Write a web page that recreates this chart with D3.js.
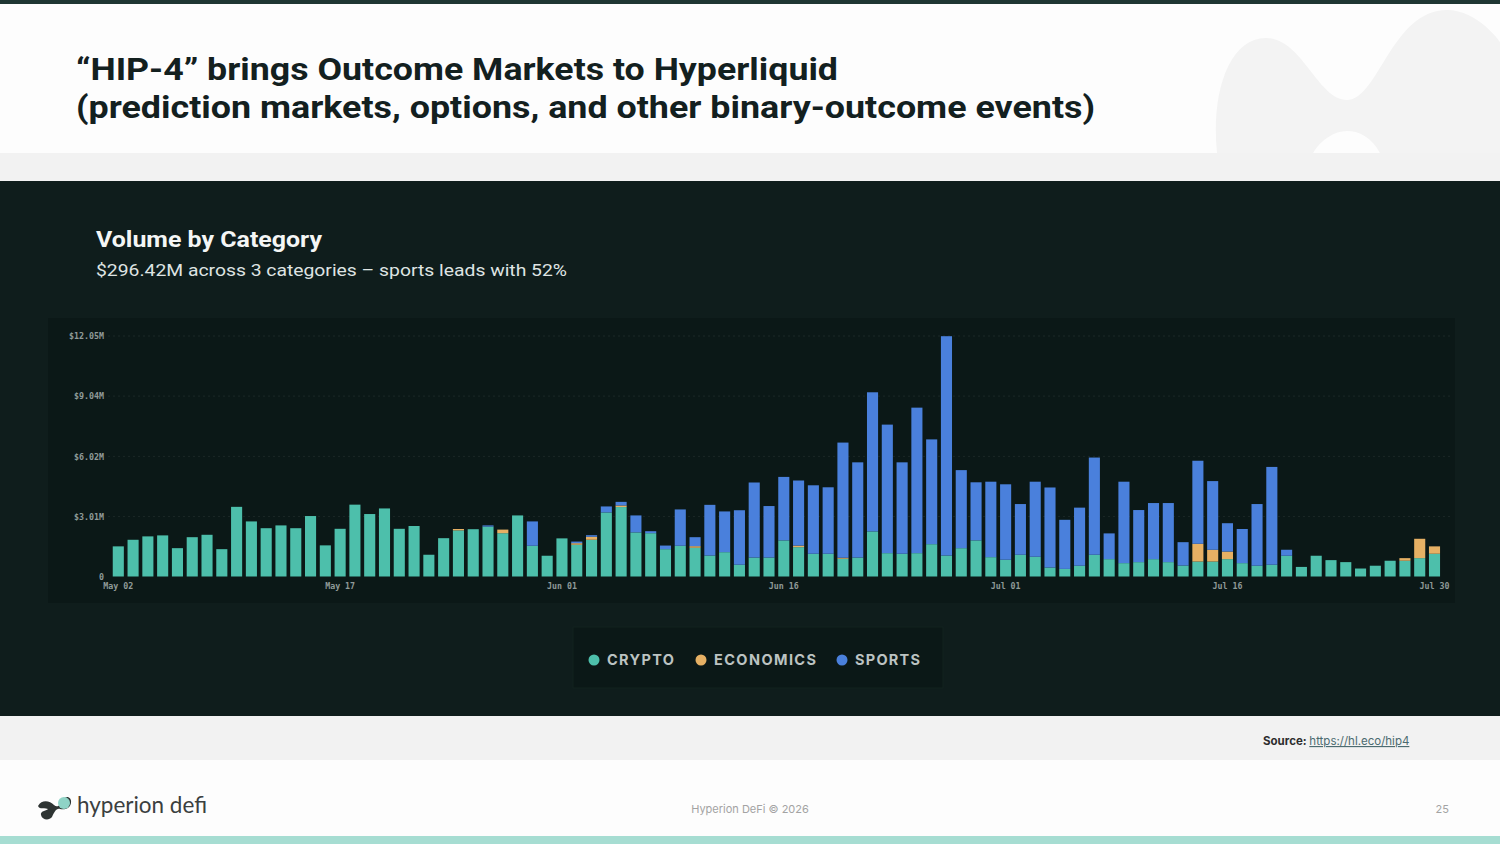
<!DOCTYPE html>
<html>
<head>
<meta charset="utf-8">
<script src="https://cdn.jsdelivr.net/npm/d3@7"></script>
<style>
  html, body { margin: 0; padding: 0; background: #fdfdfd; }
  svg { display: block; }
</style>
</head>
<body>
<svg id="page" width="1500" height="844"></svg>
<script>
// ---- data ($M per day) ----
const startDay = "2025-05-02";
const dayCount = 90;
const categories = ["crypto", "economics", "sports"];
const categoryLabels = ["CRYPTO", "ECONOMICS", "SPORTS"];

const crypto = [
  1.51, 1.84, 2.01, 2.06, 1.42, 1.97, 2.09, 1.37, 3.49, 2.76,
  2.42, 2.56, 2.42, 3.03, 1.56, 2.39, 3.60, 3.13, 3.41, 2.39,
  2.53, 1.09, 1.92, 2.31, 2.37, 2.50, 2.17, 3.06, 1.54, 1.04,
  1.91, 1.59, 1.84, 3.21, 3.48, 2.21, 2.17, 1.37, 1.54, 1.44,
  1.05, 1.22, 0.59, 0.95, 0.95, 1.81, 1.47, 1.14, 1.14, 0.89,
  0.95, 2.26, 1.17, 1.14, 1.17, 1.62, 1.05, 1.42, 1.81, 0.97,
  0.84, 1.09, 0.99, 0.45, 0.38, 0.54, 1.09, 0.87, 0.67, 0.72,
  0.87, 0.72, 0.55, 0.75, 0.75, 0.87, 0.67, 0.54, 0.59, 1.04,
  0.48, 1.04, 0.82, 0.72, 0.40, 0.54, 0.79, 0.79, 0.92, 1.14
];
const economics = [
  0, 0, 0, 0, 0, 0, 0, 0, 0, 0,
  0, 0, 0, 0, 0, 0, 0, 0, 0, 0,
  0, 0, 0, 0.07, 0, 0, 0.18, 0, 0, 0,
  0, 0.08, 0.15, 0, 0.08, 0, 0, 0, 0, 0.08,
  0, 0, 0, 0, 0, 0, 0.08, 0, 0, 0.05,
  0, 0, 0, 0, 0, 0, 0, 0, 0, 0,
  0, 0, 0, 0, 0, 0, 0, 0, 0, 0,
  0, 0, 0, 0.89, 0.59, 0.38, 0, 0, 0, 0,
  0, 0, 0, 0, 0, 0, 0, 0.13, 0.97, 0.37
];
const sports = [
  0, 0, 0, 0, 0, 0, 0, 0, 0, 0,
  0, 0, 0, 0, 0, 0, 0, 0, 0, 0,
  0, 0, 0, 0, 0, 0.06, 0, 0, 1.22, 0,
  0, 0.08, 0.08, 0.30, 0.18, 0.85, 0.10, 0.18, 1.82, 0.45,
  2.54, 2.04, 2.73, 3.76, 2.58, 3.18, 3.26, 3.43, 3.33, 5.77,
  4.77, 6.97, 6.44, 4.58, 7.29, 5.25, 10.99, 3.91, 2.91, 3.78,
  3.78, 2.54, 3.76, 4.01, 2.46, 2.91, 4.87, 1.29, 4.08, 2.61,
  2.81, 2.96, 1.17, 4.16, 3.44, 1.42, 1.71, 3.09, 4.90, 0.30,
  0, 0, 0, 0, 0, 0, 0, 0, 0, 0
];

const yTicks = [0, 3.01, 6.02, 9.04, 12.05];
const yTickLabels = ["0", "$3.01M", "$6.02M", "$9.04M", "$12.05M"];
const xTickDays = ["2025-05-02", "2025-05-17", "2025-06-01", "2025-06-16", "2025-07-01", "2025-07-16", "2025-07-30"];

const title1 = "\u201cHIP-4\u201d brings Outcome Markets to Hyperliquid";
const title2 = "(prediction markets, options, and other binary-outcome events)";
const chartTitle = "Volume by Category";
const chartSubtitle = "$296.42M across 3 categories \u2013 sports leads with 52%";

// ---- page ----
const svg = d3.select("#page");
const parseDay = d3.timeParse("%Y-%m-%d");
const fmtDay = d3.timeFormat("%b %d");

// top strip + header
svg.append("rect").attr("x", 0).attr("y", 0).attr("width", 1500).attr("height", 844).attr("fill", "#fdfdfd");
svg.append("path")
  .attr("d", "M1217,153 C1211,95 1228,38 1266,38 C1302,38 1318,100 1347,100 C1378,100 1392,10 1447,10 C1478,10 1500,42 1500,42 L1500,153 L1380,153 C1372,138 1360,131 1347,131 C1334,131 1321,140 1313,153 Z")
  .attr("fill", "#f3f3f3");
svg.append("rect").attr("x", 0).attr("y", 0).attr("width", 1500).attr("height", 4).attr("fill", "#1f3633");

svg.append("text").attr("x", 76).attr("y", 80)
  .attr("font-family", "Roboto").attr("font-weight", 700).attr("font-size", 32)
  .attr("fill", "#13201f").attr("textLength", 762).attr("lengthAdjust", "spacingAndGlyphs")
  .text(title1);
svg.append("text").attr("x", 76).attr("y", 118)
  .attr("font-family", "Roboto").attr("font-weight", 700).attr("font-size", 32)
  .attr("fill", "#13201f").attr("textLength", 1019).attr("lengthAdjust", "spacingAndGlyphs")
  .text(title2);

// grey bands + dark panel
svg.append("rect").attr("x", 0).attr("y", 153).attr("width", 1500).attr("height", 28).attr("fill", "#f2f2f2");
svg.append("rect").attr("x", 0).attr("y", 181).attr("width", 1500).attr("height", 535).attr("fill", "#0f1d1c");
svg.append("rect").attr("x", 0).attr("y", 716).attr("width", 1500).attr("height", 44).attr("fill", "#f2f2f2");
svg.append("rect").attr("x", 0).attr("y", 836).attr("width", 1500).attr("height", 8).attr("fill", "#a6ddd2");

svg.append("text").attr("x", 96).attr("y", 247)
  .attr("font-family", "Roboto").attr("font-weight", 700).attr("font-size", 22)
  .attr("fill", "#f4f6f5").attr("textLength", 226).attr("lengthAdjust", "spacingAndGlyphs")
  .text(chartTitle);
svg.append("text").attr("x", 96).attr("y", 276)
  .attr("font-family", "Roboto").attr("font-size", 17)
  .attr("fill", "#dfe4e3").attr("textLength", 471).attr("lengthAdjust", "spacingAndGlyphs")
  .text(chartSubtitle);

// ---- chart ----
svg.append("rect").attr("x", 48).attr("y", 318).attr("width", 1407).attr("height", 285).attr("fill", "#0b1817");

const days = d3.timeDay.range(parseDay(startDay), d3.timeDay.offset(parseDay(startDay), dayCount));
const rows = days.map((d, i) => ({ day: d, crypto: crypto[i], economics: economics[i], sports: sports[i] }));

const x = d3.scaleBand()
  .domain(days)
  .range([110.9, 1441.9])
  .paddingInner(0.25)
  .paddingOuter(0.125);

const y = d3.scaleLinear()
  .domain([0, 12.05])
  .range([576.5, 336]);

const colors = d3.scaleOrdinal()
  .domain(categories)
  .range(["#4dbfab", "#e6b064", "#4a80dc"]);

// dotted grid
svg.append("g")
  .selectAll("line")
  .data(yTicks.slice(1))
  .join("line")
  .attr("x1", 108).attr("x2", 1450)
  .attr("y1", d => y(d)).attr("y2", d => y(d))
  .attr("stroke", "#ffffff").attr("stroke-opacity", 0.07)
  .attr("stroke-dasharray", "2,3");

// y axis
const yAxis = svg.append("g")
  .attr("transform", "translate(104,0)")
  .call(d3.axisLeft(y).tickValues(yTicks).tickSize(0).tickPadding(0)
    .tickFormat((d, i) => yTickLabels[i]));
yAxis.select(".domain").remove();
yAxis.selectAll("text")
  .attr("font-family", "DejaVu Sans Mono").attr("font-weight", 700).attr("font-size", 8.3)
  .attr("fill", "#8f9a98");

// x axis
const xTicks = xTickDays.map(parseDay);
const xAxis = svg.append("g")
  .attr("transform", "translate(0,583)")
  .call(d3.axisBottom(x).tickValues(xTicks.map(t => days.find(d => +d === +t)))
    .tickSize(0).tickPadding(0).tickFormat(fmtDay));
xAxis.select(".domain").remove();
xAxis.selectAll("text")
  .attr("dy", "0.71em")
  .attr("font-family", "DejaVu Sans Mono").attr("font-weight", 700).attr("font-size", 8.3)
  .attr("fill", "#8f9a98");

// stacked bars
const stacked = d3.stack().keys(categories)(rows);
svg.append("g")
  .selectAll("g")
  .data(stacked)
  .join("g")
  .attr("fill", s => colors(s.key))
  .selectAll("rect")
  .data(s => s)
  .join("rect")
  .attr("x", d => x(d.data.day))
  .attr("width", x.bandwidth())
  .attr("y", d => y(d[1]))
  .attr("height", d => Math.max(0, y(d[0]) - y(d[1])));

// legend
svg.append("rect").attr("x", 573).attr("y", 627).attr("width", 370).attr("height", 61)
  .attr("fill", "#0b1817").attr("stroke", "#13221f");
const legendX = [594, 701, 842];
const legendW = [67, 102, 65];
const legend = svg.append("g")
  .selectAll("g")
  .data(categories)
  .join("g")
  .attr("transform", (d, i) => `translate(${legendX[i]},660)`);
legend.append("circle").attr("r", 5.5).attr("fill", d => colors(d));
legend.append("text")
  .attr("x", 13).attr("y", 5)
  .attr("font-family", "Inter").attr("font-weight", 700).attr("font-size", 14.5)
  .attr("fill", "#bcc3c2")
  .attr("textLength", (d, i) => legendW[i]).attr("lengthAdjust", "spacing")
  .text((d, i) => categoryLabels[i]);

// ---- footer ----
const src = svg.append("text").attr("x", 1263).attr("y", 745)
  .attr("font-family", "Inter").attr("font-size", 11.5);
src.append("tspan").attr("font-weight", 700).attr("fill", "#2d2d2d").text("Source: ");
src.append("tspan").attr("fill", "#4c6b70").attr("text-decoration", "underline").text("https://hl.eco/hip4");

svg.append("text").attr("x", 750).attr("y", 813).attr("text-anchor", "middle")
  .attr("font-family", "Inter").attr("font-size", 11).attr("fill", "#a3a3a3")
  .text("Hyperion DeFi \u00a9 2026");
svg.append("text").attr("x", 1449).attr("y", 813).attr("text-anchor", "end")
  .attr("font-family", "Inter").attr("font-size", 11).attr("fill", "#a3a3a3")
  .text("25");

// logo
const logo = svg.append("g").attr("transform", "translate(38,793)");
logo.append("path")
  .attr("d", "M0,13 C4,6 12,8 16,12 C20,16 24,10 26,6 C28,2 34,4 33,10 C32,16 26,17 22,16 C18,15 16,20 14,24 C11,28 4,27 3,22 C2,18 8,18 10,16 C6,14 2,17 0,13 Z")
  .attr("fill", "#2e3433");
logo.append("circle").attr("cx", 26).attr("cy", 10).attr("r", 6).attr("fill", "#8fd3c6");
logo.append("text").attr("x", 39).attr("y", 20)
  .attr("font-family", "Lato").attr("font-size", 23).attr("fill", "#3b3f3f")
  .attr("textLength", 130).attr("lengthAdjust", "spacingAndGlyphs")
  .text("hyperion defi");
</script>
</body>
</html>
